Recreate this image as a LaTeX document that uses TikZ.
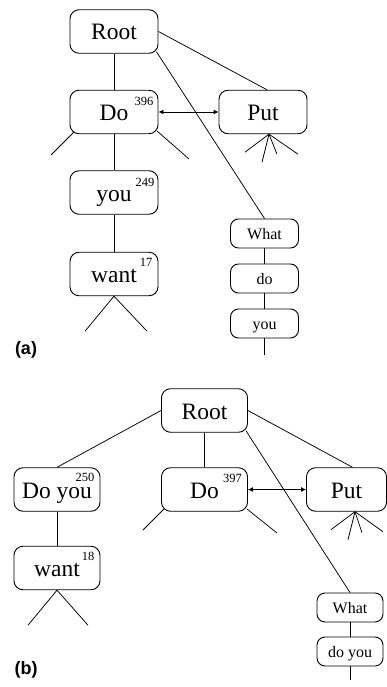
\documentclass[tikz,border=0pt]{standalone}
\usepackage{fontspec}
\setmainfont{Liberation Serif}
\setsansfont{Liberation Sans}
\usetikzlibrary{arrows.meta}
\tikzset{
  word/.style={draw,rounded corners=9pt,line width=0.9pt,minimum width=88pt,
    minimum height=43.5pt,inner sep=0pt,font=\fontsize{23.5}{26}\selectfont,
    text height=17pt,text depth=0pt},
  smallword/.style={draw,rounded corners=8pt,line width=0.9pt,minimum width=68pt,
    minimum height=29pt,inner sep=0pt,font=\fontsize{16}{18}\selectfont,
    text height=11pt,text depth=0pt},
  count/.style={anchor=north east,inner sep=0pt,font=\fontsize{12.5}{14}\selectfont},
  panel/.style={font=\fontsize{18}{20}\selectfont\sffamily\bfseries},
  link/.style={line width=0.75pt},
  both/.style={{Latex[length=5pt,width=5pt]}-{Latex[length=5pt,width=5pt]},line width=0.9pt}
}

\begin{document}
\begin{tikzpicture}[x=1pt,y=-1pt]
  \useasboundingbox (0,0) rectangle (387,687);

  % (a)
  \node[word] (rootA) at (114,31.5) {Root};
  \node[word] (doA) at (114,112) {Do};
  \node[word] (putA) at (263,112) {Put};
  \node[word] (youA) at (114,192.5) {you};
  \node[word] (wantA) at (114,274) {want};
  \node[smallword] (whatA) at (264.5,233.5) {What};
  \node[smallword] (doS) at (264.5,278.5) {do};
  \node[smallword] (youS) at (264.5,323.5) {you};
  \node[count] (cDoA) at ([xshift=-5pt,yshift=-7pt]doA.north east) {396};
  \node[count] (cYouA) at ([xshift=-4pt,yshift=-8pt]youA.north east) {249};
  \node[count] (cWantA) at ([xshift=-6pt,yshift=-6pt]wantA.north east) {17};
  \node[panel] (labA) at (26,350) {(a)};

  \draw[link] (rootA) -- (doA);
  \draw[link] (doA) -- (youA);
  \draw[link] (youA) -- (wantA);
  \draw[link] (rootA.east) -- ([xshift=4pt]putA.north);
  \draw[link] ([xshift=-2pt,yshift=2pt]rootA.south east) -- (whatA.north);
  \draw[link] (whatA) -- (doS);
  \draw[link] (doS) -- (youS);
  \draw[link] (youS.south) -- ++(0,17);
  \draw[both] (doA) -- (putA);
  \draw[link] (doA.center) ++(-40,20) -- ++(-23,23);
  \draw[link] (doA.center) ++(43,19) -- ++(32,28);
  \draw[link] (wantA.south) -- ++(-29,35);
  \draw[link] (wantA.south) -- ++(33,35);
  \foreach \dx/\dy in {-24/18,-7/28,8/20,29/20}
    \draw[link] ([xshift=6pt]putA.south) -- ++(\dx,\dy);

  % (b)
  \node[word,minimum width=86pt] (rootB) at (204.5,410.5) {Root};
  \node[word,minimum width=86pt] (doyouB) at (57,489.5) {Do you};
  \node[word,minimum width=86pt] (doB) at (204.5,489.5) {Do};
  \node[word,minimum width=80pt] (putB) at (346.5,489.5) {Put};
  \node[word,minimum width=86pt] (wantB) at (57,568) {want};
  \node[smallword,minimum width=66pt] (whatB) at (350,607.5) {What};
  \node[smallword,minimum width=66pt] (doyouS) at (350,651.5) {do you};
  \node[count] (cDoyouB) at ([xshift=-6pt,yshift=-6pt]doyouB.north east) {250};
  \node[count] (cDoB) at ([xshift=-6pt,yshift=-7pt]doB.north east) {397};
  \node[count] (cWantB) at ([xshift=-6pt,yshift=-6pt]wantB.north east) {18};
  \node[panel] (labB) at (26,670) {(b)};

  \draw[link] (rootB.west) -- (doyouB.north);
  \draw[link] (rootB) -- (doB);
  \draw[link] (rootB.east) -- ([xshift=6pt]putB.north);
  \draw[link] ([xshift=-2pt,yshift=2pt]rootB.south east) -- (whatB.north);
  \draw[link] (doyouB) -- (wantB);
  \draw[link] (whatB) -- (doyouS);
  \draw[link] (doyouS.south) -- ++(0,14);
  \draw[both] (doB) -- (putB);
  \draw[link] (doB.center) ++(-40.5,19.5) -- ++(-21,21);
  \draw[link] (doB.center) ++(42.5,19.5) -- ++(30,24);
  \draw[link] (wantB.south) -- ++(-29,35);
  \draw[link] (wantB.south) -- ++(31,35);
  \foreach \dx/\dy in {-24/18,-7/28,7/21,28/20}
    \draw[link] ([xshift=8.5pt]putB.south) -- ++(\dx,\dy);
\end{tikzpicture}
\end{document}
